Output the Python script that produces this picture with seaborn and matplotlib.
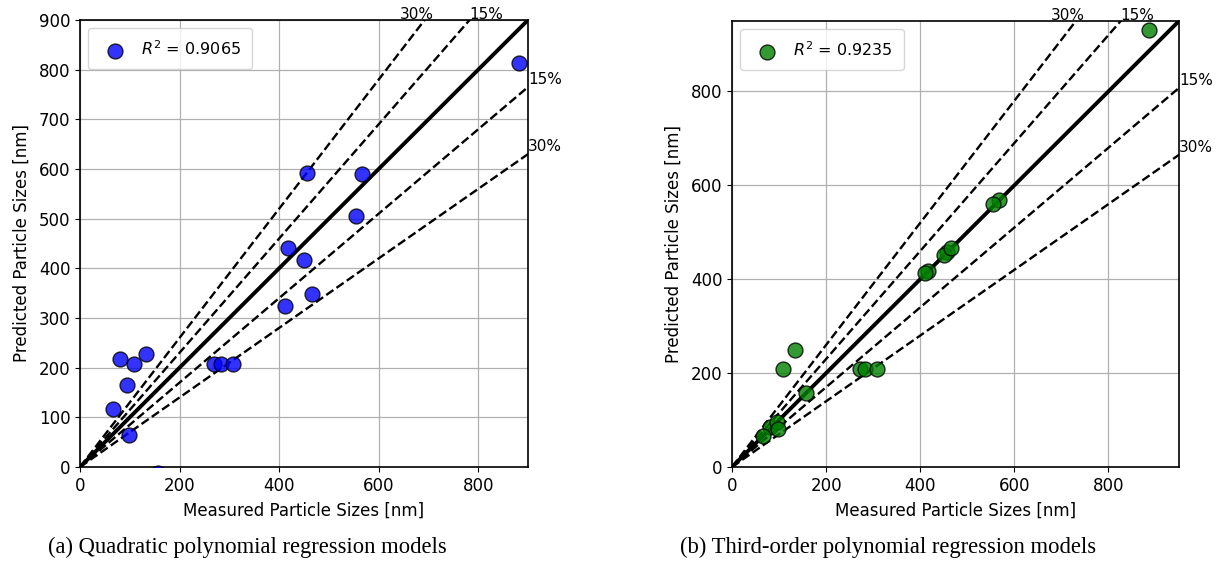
import matplotlib
matplotlib.use("Agg")
import matplotlib.pyplot as plt
import seaborn as sns
import numpy as np
import pandas as pd

# ---- data ----
measured_a = [882, 456, 567, 555, 417, 451, 466, 411, 269, 283, 308, 81, 108, 133, 95, 66, 98, 157]
predicted_a = [813, 592, 590, 505, 440, 416, 349, 324, 207, 207, 207, 217, 207, 227, 166, 117, 64, -12]

measured_b = [886, 456, 567, 555, 417, 451, 466, 411, 271, 283, 309, 81, 108, 133, 95, 66, 98, 157]
predicted_b = [931, 458, 568, 560, 418, 451, 467, 413, 208, 208, 208, 86, 208, 250, 96, 66, 80, 157]

r2_a = "0.9065"
r2_b = "0.9235"
lim_a = 900
lim_b = 950
captions = ["(a) Quadratic polynomial regression models",
            "(b) Third-order polynomial regression models"]
xlabel = "Measured Particle Sizes [nm]"
ylabel = "Predicted Particle Sizes [nm]"

W, H = 1220, 570
fig = plt.figure(figsize=(W / 100, H / 100), dpi=100)
ax_a = fig.add_axes([80 / W, (H - 467) / H, 448 / W, 447 / H])
ax_b = fig.add_axes([732 / W, (H - 467) / H, 447 / W, 446 / H])

FS = 12


def panel(ax, xs, ys, lim, r2, color):
    df = pd.DataFrame({"x": xs, "y": ys})
    ax.set_axisbelow(True)
    ax.grid(True, color="#b0b0b0", linewidth=0.9)
    ref = pd.DataFrame({"x": [0, lim]})
    for k in [1.3, 1.15, 0.85, 0.7]:
        sns.lineplot(x=ref["x"], y=ref["x"] * k, ax=ax, color="black",
                     linestyle="--", linewidth=1.7, zorder=2)
    sns.lineplot(x=ref["x"], y=ref["x"], ax=ax, color="black", linewidth=2.8, zorder=2)
    sns.scatterplot(data=df, x="x", y="y", ax=ax, color=color, alpha=0.8,
                    s=115, edgecolor="black", linewidth=1.0, zorder=3,
                    label=f"$R^2$ = {r2}")
    ax.set_xlim(0, lim)
    ax.set_ylim(0, lim)
    ax.set_xlabel(xlabel, fontsize=FS, labelpad=5)
    ax.set_ylabel(ylabel, fontsize=FS, labelpad=6)
    ax.tick_params(labelsize=FS)
    ax.text(lim / 1.4, lim * 0.995, "30%", ha="left", va="bottom", fontsize=11)
    ax.text(lim / 1.15, lim * 0.995, "15%", ha="left", va="bottom", fontsize=11)
    ax.text(lim, lim * 0.85, "15%", ha="left", va="bottom", fontsize=11)
    ax.text(lim, lim * 0.7, "30%", ha="left", va="bottom", fontsize=11)
    ax.legend(loc="upper left", fontsize=11.5, borderpad=0.7, handletextpad=0.6)
    for sp in ax.spines.values():
        sp.set_linewidth(1.2)


panel(ax_a, measured_a, predicted_a, lim_a, r2_a, "blue")
panel(ax_b, measured_b, predicted_b, lim_b, r2_b, "green")
ax_a.set_yticks(np.arange(0, 901, 100))
ax_a.set_xticks(np.arange(0, 801, 200))
ax_b.set_yticks(np.arange(0, 801, 200))
ax_b.set_xticks(np.arange(0, 801, 200))

fig.text(247 / W, 1 - 547 / H, captions[0], ha="center", va="center",
         fontsize=16.3, family="Liberation Serif")
fig.text(888 / W, 1 - 547 / H, captions[1], ha="center", va="center",
         fontsize=16.3, family="Liberation Serif")

fig.savefig("out.png", dpi=100)
